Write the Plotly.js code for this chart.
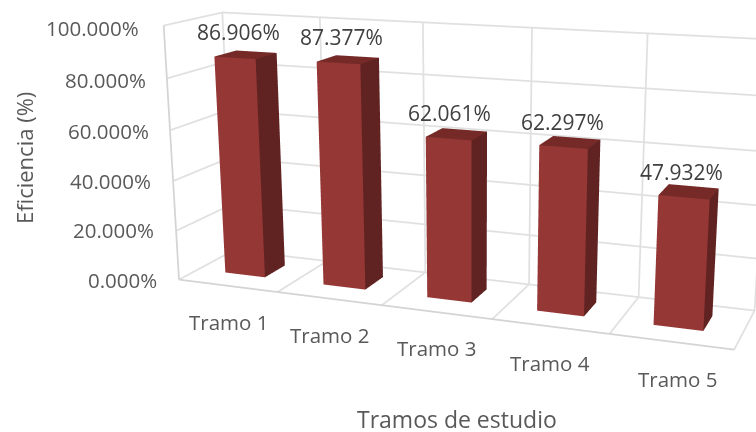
<!DOCTYPE html>
<html><head><meta charset="utf-8">
<script src="https://cdn.plot.ly/plotly-3.0.1.min.js"></script>
<style>html,body{margin:0;padding:0;width:756px;height:432px;overflow:hidden;background:#fff}
#wrap{position:absolute;left:0;top:0;width:756px;height:432px;overflow:hidden}
#chart{position:absolute;left:0;top:-349px;width:946px;height:1131px}</style>
</head><body><div id="wrap"><div id="chart"></div></div>
<script>
const categories = ["Tramo 1","Tramo 2","Tramo 3","Tramo 4","Tramo 5"];
const efficiency = [86.906,87.377,62.061,62.297,47.932];
const zTicks = [0,20,40,60,80,100];
const zTickText = ["0.000%","20.000%","40.000%","60.000%","80.000%","100.000%"];
const xEdges = [0.5,1.5,2.5,3.5,4.5,5.5];

// layout placement, in window pixels
const W=946,H=1131,TOP=-349;
const px=x=>x/W, py=y=>1-(y-TOP)/H;
const valuePos=[[239,32],[341,37],[449,113],[562,122],[681,172]];
const catPos=[[228,322],[329,335],[436,348],[550,363],[677,379]];
const zPos=[[159,280],[156,230],[153,181],[151,131],[148,80],[141,28]];

const halfW=0.205, xOff=-0.012, yFront=0.34, yBack=0.73;
const xs=[],ys=[],zs=[],I=[],J=[],K=[],fc=[];
const FRONT="#953735",SIDE="#612322",TOPC="#752A28";
efficiency.forEach((v,n)=>{
  const c=n+1+xOff,b=xs.length;
  [[c-halfW,yFront,0],[c+halfW,yFront,0],[c+halfW,yBack,0],[c-halfW,yBack,0],
   [c-halfW,yFront,v],[c+halfW,yFront,v],[c+halfW,yBack,v],[c-halfW,yBack,v]].forEach(p=>{xs.push(p[0]);ys.push(p[1]);zs.push(p[2]);});
  [[0,1,5,FRONT],[0,5,4,FRONT],[1,2,6,SIDE],[1,6,5,SIDE],[4,5,6,TOPC],[4,6,7,TOPC]].forEach(t=>{I.push(b+t[0]);J.push(b+t[1]);K.push(b+t[2]);fc.push(t[3]);});
});
const bars={type:"mesh3d",x:xs,y:ys,z:zs,i:I,j:J,k:K,facecolor:fc,flatshading:true,hoverinfo:"skip",
  lighting:{ambient:1,diffuse:0,specular:0,roughness:1,fresnel:0}};

// wall and floor grid, built from the tick arrays
const xMin=xEdges[0],xMax=xEdges[xEdges.length-1],zMin=zTicks[0],zMax=zTicks[zTicks.length-1];
function lines(segs,color){
  const x=[],y=[],z=[];
  segs.forEach(s=>{x.push(s[0][0],s[1][0],null);y.push(s[0][1],s[1][1],null);z.push(s[0][2],s[1][2],null);});
  return {type:"scatter3d",mode:"lines",x,y,z,connectgaps:false,hoverinfo:"skip",showlegend:false,line:{color,width:3.5}};
}
const gridSegs=[];
zTicks.forEach(t=>{gridSegs.push([[xMin,1,t],[xMax,1,t]]);gridSegs.push([[xMin,0,t],[xMin,1,t]]);});
xEdges.forEach(e=>{gridSegs.push([[e,1,zMin],[e,1,zMax]]);gridSegs.push([[e,0,zMin],[e,1,zMin]]);});
const frameSegs=[[[xMin,0,zMin],[xMax,0,zMin]],[[xMin,0,zMin],[xMin,0,zMax]]];

const ax={showbackground:false,showticklabels:false,title:{text:""},ticks:"",zeroline:false,showspikes:false,showgrid:false,showline:false};
const ann=[];
const T=(t,p,size,color,extra)=>ann.push(Object.assign({text:t,xref:"paper",yref:"paper",x:px(p[0]),y:py(p[1]),showarrow:false,xanchor:"center",yanchor:"middle",font:{family:"'Open Sans', sans-serif",size:size,color:color}},extra||{}));
efficiency.forEach((v,n)=>T(v.toFixed(3)+"%",valuePos[n],21,"#404040"));
categories.forEach((c,n)=>T(c,catPos[n],20.5,"#595959"));
zTickText.forEach((s,n)=>T(s,zPos[n],20.5,"#595959",{xanchor:"right"}));
T("Tramos de estudio",[457,419],23,"#595959");
T("Eficiencia (%)",[24,158],22,"#595959",{textangle:-90});

const layout={width:W,height:H,margin:{l:0,r:0,t:0,b:0},paper_bgcolor:"#fff",showlegend:false,annotations:ann,
 scene:{domain:{x:[0,1],y:[0,1]},bgcolor:"#fff",aspectmode:"manual",aspectratio:{x:1.3092,y:0.2591,z:0.6089},
  camera:{eye:{x:1.0647,y:-2.747,z:0.7015},center:{x:0.0525,y:-0.037,z:-0.0995},up:{x:0,y:0,z:1},projection:{type:"perspective"}},
  xaxis:Object.assign({},ax,{range:[xMin-0.01,xMax+0.01],tickvals:xEdges}),
  yaxis:Object.assign({},ax,{range:[-0.01,1.01],tickvals:[0,1]}),
  zaxis:Object.assign({},ax,{range:[zMin-1,zMax+1],tickvals:zTicks})}};
Plotly.newPlot("chart",[lines(gridSegs,"#e0e0e0"),lines(frameSegs,"#d4d4d4"),bars],layout,{displayModeBar:false});
</script></body></html>
